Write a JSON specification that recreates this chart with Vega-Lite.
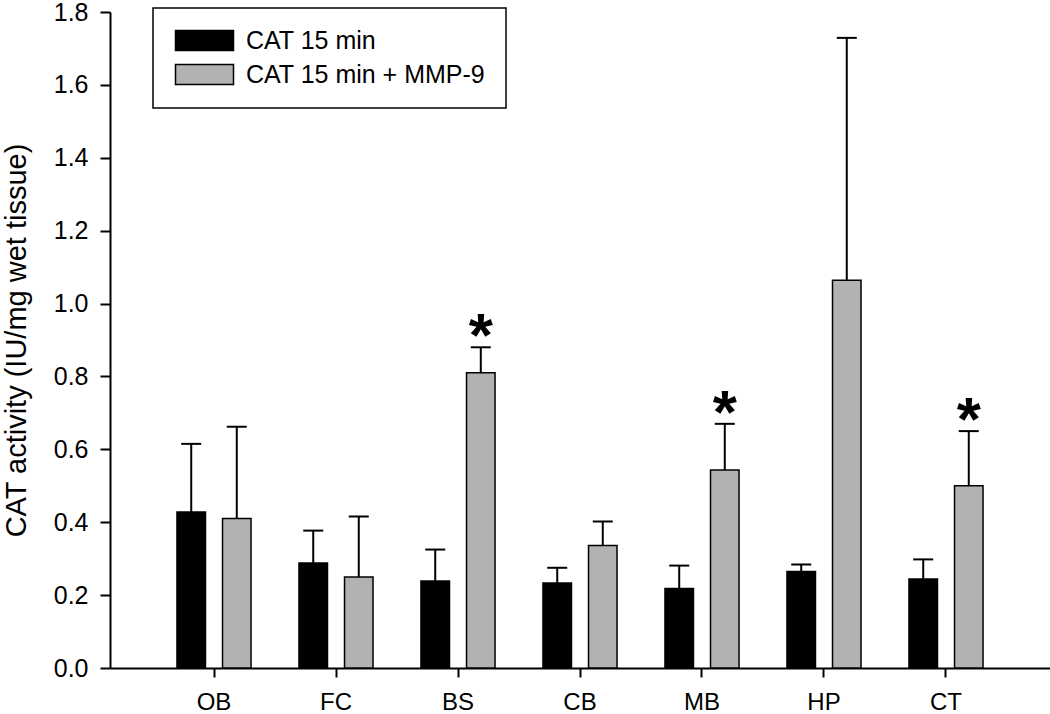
{
  "$schema": "https://vega.github.io/schema/vega-lite/v6.json",
  "width": 940,
  "height": 656,
  "autosize": {"type": "none"},
  "padding": {"left": 110, "top": 12, "right": 0, "bottom": 46},
  "background": "white",
  "config": {
    "view": {"stroke": null},
    "font": "Liberation Sans",
    "axis": {
      "domainColor": "black",
      "tickColor": "black",
      "labelColor": "black",
      "titleColor": "black",
      "titleFontWeight": "normal",
      "domainWidth": 2,
      "tickWidth": 2,
      "grid": false
    },
    "legend": {"strokeWidth": 1.5}
  },
  "data": {
    "values": [
      {"region": "OB", "group": "CAT 15 min", "mean": 0.428, "upper": 0.615, "sig": ""},
      {"region": "OB", "group": "CAT 15 min + MMP-9", "mean": 0.41, "upper": 0.662, "sig": ""},
      {"region": "FC", "group": "CAT 15 min", "mean": 0.288, "upper": 0.377, "sig": ""},
      {"region": "FC", "group": "CAT 15 min + MMP-9", "mean": 0.25, "upper": 0.416, "sig": ""},
      {"region": "BS", "group": "CAT 15 min", "mean": 0.239, "upper": 0.325, "sig": ""},
      {"region": "BS", "group": "CAT 15 min + MMP-9", "mean": 0.81, "upper": 0.88, "sig": "*"},
      {"region": "CB", "group": "CAT 15 min", "mean": 0.233, "upper": 0.275, "sig": ""},
      {"region": "CB", "group": "CAT 15 min + MMP-9", "mean": 0.336, "upper": 0.402, "sig": ""},
      {"region": "MB", "group": "CAT 15 min", "mean": 0.218, "upper": 0.281, "sig": ""},
      {"region": "MB", "group": "CAT 15 min + MMP-9", "mean": 0.543, "upper": 0.67, "sig": "*"},
      {"region": "HP", "group": "CAT 15 min", "mean": 0.265, "upper": 0.284, "sig": ""},
      {"region": "HP", "group": "CAT 15 min + MMP-9", "mean": 1.064, "upper": 1.729, "sig": ""},
      {"region": "CT", "group": "CAT 15 min", "mean": 0.244, "upper": 0.298, "sig": ""},
      {"region": "CT", "group": "CAT 15 min + MMP-9", "mean": 0.5, "upper": 0.65, "sig": "*"}
    ]
  },
  "encoding": {
    "x": {
      "field": "region",
      "type": "nominal",
      "sort": ["OB", "FC", "BS", "CB", "MB", "HP", "CT"],
      "scale": {"paddingInner": 0.393, "paddingOuter": 0.549},
      "axis": {
        "title": null,
        "labelAngle": 0,
        "labelFontSize": 24,
        "tickSize": 9,
        "labelPadding": 13
      }
    },
    "xOffset": {
      "field": "group",
      "type": "nominal",
      "sort": ["CAT 15 min", "CAT 15 min + MMP-9"],
      "scale": {"paddingInner": 0.374, "paddingOuter": 0}
    }
  },
  "layer": [
    {
      "mark": {"type": "bar", "stroke": "black", "strokeWidth": 1.5},
      "encoding": {
        "y": {
          "field": "mean",
          "type": "quantitative",
          "scale": {"domain": [0, 1.8], "nice": false},
          "axis": {
            "title": "CAT activity (IU/mg wet tissue)",
            "titleFontSize": 29,
            "titlePadding": 22,
            "values": [0, 0.2, 0.4, 0.6, 0.8, 1.0, 1.2, 1.4, 1.6, 1.8],
            "format": ".1f",
            "labelFontSize": 25,
            "tickSize": 10,
            "labelPadding": 12
          }
        },
        "fill": {
          "field": "group",
          "type": "nominal",
          "sort": ["CAT 15 min", "CAT 15 min + MMP-9"],
          "scale": {"range": ["black", "#b2b2b2"]},
          "legend": {
            "title": null,
            "orient": "none",
            "legendX": 43,
            "legendY": -4,
            "strokeColor": "black",
            "fillColor": "white",
            "padding": 20,
            "labelFontSize": 25,
            "labelColor": "black",
            "labelOffset": 48,
            "labelLimit": 500,
            "rowPadding": 7,
            "symbolType": "M-1,-1H4.8V1H-1Z",
            "symbolSize": 400,
            "symbolStrokeColor": "black",
            "symbolStrokeWidth": 1.5,
            "symbolOpacity": 1
          }
        }
      }
    },
    {
      "mark": {"type": "rule", "strokeWidth": 2, "color": "black"},
      "encoding": {
        "y": {"field": "mean", "type": "quantitative"},
        "y2": {"field": "upper"}
      }
    },
    {
      "mark": {"type": "tick", "thickness": 2, "size": 20, "color": "black", "opacity": 1},
      "encoding": {
        "y": {"field": "upper", "type": "quantitative"}
      }
    },
    {
      "transform": [{"filter": "datum.sig == '*'"}],
      "mark": {"type": "text", "fontSize": 62, "fontWeight": "bold", "baseline": "alphabetic", "dy": 9, "color": "black"},
      "encoding": {
        "y": {"field": "upper", "type": "quantitative"},
        "text": {"field": "sig"}
      }
    }
  ]
}
